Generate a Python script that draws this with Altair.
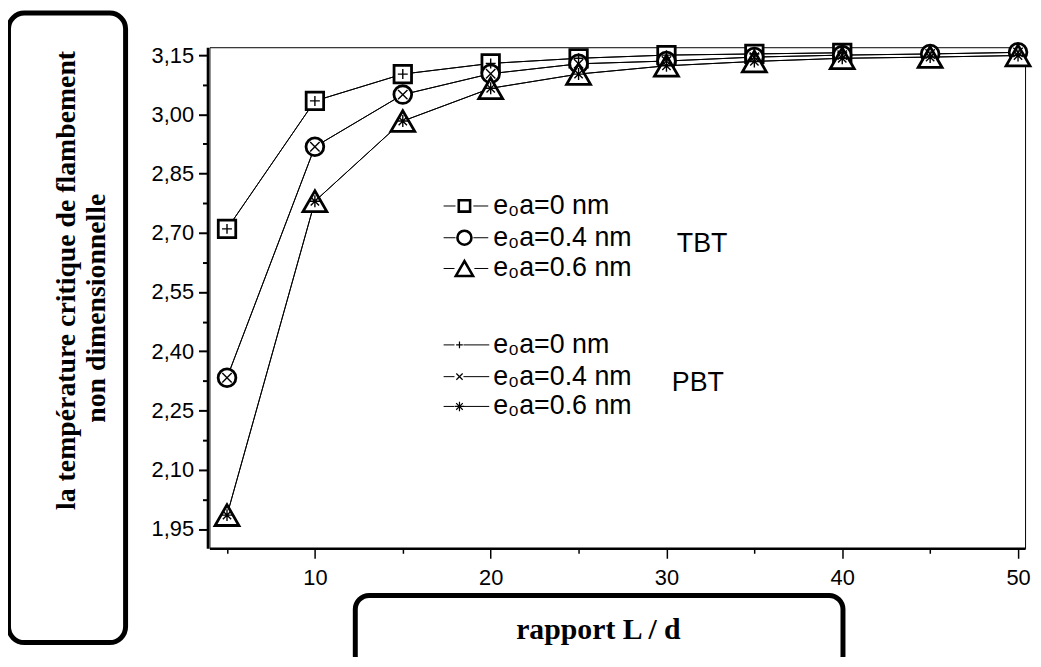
import altair as alt
import pandas as pd

# ---------------- data ----------------
ratio = [5, 10, 15, 20, 25, 30, 35, 40, 45, 50]

tbt_e0a_00 = [2.710, 3.034, 3.102, 3.129, 3.142, 3.150, 3.153, 3.156]
tbt_e0a_04 = [2.333, 2.918, 3.050, 3.103, 3.128, 3.135, 3.145, 3.150, 3.153, 3.157]
tbt_e0a_06 = [1.985, 2.780, 2.983, 3.066, 3.102, 3.123, 3.134, 3.142, 3.145, 3.149]

pbt_e0a_00 = [2.710, 3.034, 3.102, 3.129, 3.142, 3.150, 3.153, 3.156]
pbt_e0a_04 = [2.333, 2.918, 3.050, 3.103, 3.128, 3.135, 3.145, 3.150, 3.153, 3.157]
pbt_e0a_06 = [1.985, 2.780, 2.983, 3.066, 3.102, 3.123, 3.134, 3.142, 3.145, 3.149]

series_labels = ["e₀a=0 nm", "e₀a=0.4 nm", "e₀a=0.6 nm"]
group_labels = ["TBT", "PBT"]

y_major = [1.95, 2.10, 2.25, 2.40, 2.55, 2.70, 2.85, 3.00, 3.15]
y_minor = [2.025, 2.175, 2.325, 2.475, 2.625, 2.775, 2.925, 3.075]
x_major = [10, 20, 30, 40, 50]
x_minor = [5, 15, 25, 35, 45]

x_title = "rapport L / d"
y_title = ["la température critique de flambement", "non dimensionnelle"]

# ---------------- table ----------------
series = [
    ("TBT0", tbt_e0a_00), ("TBT4", tbt_e0a_04), ("TBT6", tbt_e0a_06),
    ("PBT0", pbt_e0a_00), ("PBT4", pbt_e0a_04), ("PBT6", pbt_e0a_06),
]
rows = []
for name, vals in series:
    for xv, yv in zip(ratio, vals):
        rows.append({"series": name, "ratio": xv, "value": yv})
df = pd.DataFrame(rows)

# ---------------- layout helpers (page px -> plot px) ----------------
OX, OY = 211, 45
W, H = 822, 505


def px(v):
    return v - OX


def py(v):
    return v - OY


PLUS = "M-1,0L1,0M0,-1L0,1"
XMARK = "M-1,-1L1,1M-1,1L1,-1"
STAR = "M-1,0L1,0M0,-1L0,1M-0.7,-0.7L0.7,0.7M-0.7,0.7L0.7,-0.7"

xscale = alt.Scale(domain=[4, 50.4], nice=False, zero=False)
yscale = alt.Scale(domain=[1.901, 3.170], nice=False, zero=False)

LF = "Liberation Sans"

ax_y_major = alt.Axis(orient="left", values=y_major, title=None, grid=False,
                      labelExpr="replace(format(datum.value, '.2f'), '.', ',')",
                      tickSize=9, tickWidth=2, tickColor="black",
                      domainWidth=2.5, domainColor="black", offset=2,
                      labelFont=LF, labelFontSize=22, labelColor="black",
                      labelPadding=5)
ax_y_minor = alt.Axis(orient="left", values=y_minor, title=None, grid=False,
                      labels=False, domain=False, tickSize=5, tickWidth=2,
                      tickColor="black", offset=2)
ax_x_major = alt.Axis(orient="bottom", values=x_major, title=None, grid=False,
                      format="d", tickSize=10, tickWidth=1.5, tickColor="black",
                      domainWidth=2.5, domainColor="black",
                      labelFont=LF, labelFontSize=22, labelColor="black",
                      labelPadding=9)
ax_x_minor = alt.Axis(orient="bottom", values=x_minor, title=None, grid=False,
                      labels=False, domain=False, tickSize=5, tickWidth=1.5,
                      tickColor="black")

base = alt.Chart(df)

lines = base.mark_line(color="black", strokeWidth=1).encode(
    x=alt.X("ratio:Q", scale=xscale, axis=ax_x_major),
    y=alt.Y("value:Q", scale=yscale, axis=ax_y_major),
    detail="series:N",
)


def tbt_layer(name, shape, size):
    return base.transform_filter(alt.datum.series == name).mark_point(
        shape=shape, size=size, filled=True, fill="white", stroke="black",
        strokeWidth=2.8, opacity=1, fillOpacity=1, strokeOpacity=1,
    ).encode(
        x=alt.X("ratio:Q", scale=xscale, axis=None),
        y=alt.Y("value:Q", scale=yscale, axis=None),
    )


def pbt_layer(name, shape, size, xa=None, ya=None):
    return base.transform_filter(alt.datum.series == name).mark_point(
        shape=shape, size=size, filled=False, stroke="black",
        strokeWidth=1.4, opacity=1,
    ).encode(
        x=alt.X("ratio:Q", scale=xscale, axis=xa),
        y=alt.Y("value:Q", scale=yscale, axis=ya),
    )


m_sq = tbt_layer("TBT0", "square", 310)
m_ci = tbt_layer("TBT4", "circle", 320)
m_tr = tbt_layer("TBT6", "triangle-up", 580)
p_pl = pbt_layer("PBT0", PLUS, 100, ax_x_minor, ax_y_minor)
p_x = pbt_layer("PBT4", XMARK, 90)
p_st = pbt_layer("PBT6", STAR, 144)

# ---------------- legend (built from label lists) ----------------
row_y_tbt = [205, 237, 268]
row_y_pbt = [345, 377, 407]
leg_marks, leg_text, leg_dash = [], [], []
tbt_shapes = [("square", 130), ("circle", 200), ("triangle-up", 300)]
pbt_shapes = [(PLUS, 45), (XMARK, 40), (STAR, 90)]
for i, lab in enumerate(series_labels):
    yy = py(row_y_tbt[i])
    leg_marks.append({"px": px(468), "py": yy, "shape": tbt_shapes[i][0],
                      "size": tbt_shapes[i][1], "kind": "T"})
    leg_text.append({"px": px(497), "py": yy, "label": lab})
    gap = 9 if i < 2 else 10
    leg_dash.append({"a": px(447), "b": px(468 - gap), "py": yy})
    leg_dash.append({"a": px(468 + gap), "b": px(492), "py": yy})
for i, lab in enumerate(series_labels):
    yy = py(row_y_pbt[i])
    leg_marks.append({"px": px(463), "py": yy, "shape": pbt_shapes[i][0],
                      "size": pbt_shapes[i][1], "kind": "P"})
    leg_text.append({"px": px(497), "py": yy, "label": lab})
    leg_dash.append({"a": px(447), "b": px(458), "py": yy})
    leg_dash.append({"a": px(467), "b": px(493), "py": yy})
leg_text.append({"px": px(682), "py": py(243), "label": group_labels[0]})
leg_text.append({"px": px(677), "py": py(383), "label": group_labels[1]})

lm = pd.DataFrame(leg_marks)
lt = pd.DataFrame(leg_text)
ld = pd.DataFrame(leg_dash)

leg_dash_layer = alt.Chart(ld).mark_rule(color="black", strokeWidth=1).encode(
    x=alt.X("a:Q", scale=None, axis=None), x2="b:Q",
    y=alt.Y("py:Q", scale=None, axis=None),
)
leg_tbt = alt.Chart(lm).transform_filter(alt.datum.kind == "T").mark_point(
    filled=True, fill="white", stroke="black", strokeWidth=2.6, opacity=1
).encode(
    x=alt.X("px:Q", scale=None, axis=None),
    y=alt.Y("py:Q", scale=None, axis=None),
    shape=alt.Shape("shape:N", scale=None, legend=None),
    size=alt.Size("size:Q", scale=None, legend=None),
)
leg_pbt = alt.Chart(lm).transform_filter(alt.datum.kind == "P").mark_point(
    filled=False, stroke="black", strokeWidth=1.2, opacity=1
).encode(
    x=alt.X("px:Q", scale=None, axis=None),
    y=alt.Y("py:Q", scale=None, axis=None),
    shape=alt.Shape("shape:N", scale=None, legend=None),
    size=alt.Size("size:Q", scale=None, legend=None),
)
leg_txt = alt.Chart(lt).mark_text(
    align="left", baseline="middle", font=LF, fontSize=27, color="black"
).encode(
    x=alt.X("px:Q", scale=None, axis=None),
    y=alt.Y("py:Q", scale=None, axis=None),
    text="label:N",
)

# ---------------- title boxes ----------------
one = alt.Data(values=[{"k": 0}])
ybox = alt.Chart(one).mark_rect(
    fill="white", stroke="black", strokeWidth=5, cornerRadius=16
).encode(x=alt.value(px(8.5)), x2=alt.value(px(126.5)),
         y=alt.value(py(10.5)), y2=alt.value(py(645)))
xbox = alt.Chart(one).mark_rect(
    fill="white", stroke="black", strokeWidth=5, cornerRadius=14
).encode(x=alt.value(px(358)), x2=alt.value(px(849.5)),
         y=alt.value(py(597.5)), y2=alt.value(py(672)))

SF = "Liberation Serif"
ytxt1 = alt.Chart(one).mark_text(
    angle=270, align="center", baseline="middle", font=SF, fontSize=28,
    fontWeight="bold", color="black", text=y_title[0]
).encode(x=alt.value(px(68)), y=alt.value(py(280)))
ytxt2 = alt.Chart(one).mark_text(
    angle=270, align="center", baseline="middle", font=SF, fontSize=28,
    fontWeight="bold", color="black", text=y_title[1]
).encode(x=alt.value(px(98)), y=alt.value(py(308)))
xtxt = alt.Chart(one).mark_text(
    align="center", baseline="middle", font=SF, fontSize=30,
    fontWeight="bold", color="black", text=x_title
).encode(x=alt.value(px(603)), y=alt.value(py(632)))

chart = alt.layer(
    lines, m_sq, m_ci, m_tr, p_pl, p_x, p_st,
    leg_dash_layer, leg_tbt, leg_pbt, leg_txt,
    ybox, xbox, ytxt1, ytxt2, xtxt,
).resolve_axis(x="independent", y="independent").properties(
    width=W, height=H,
    autosize=alt.AutoSizeParams(type="none"),
    padding={"left": OX - 8, "top": OY - 8, "right": 8, "bottom": 107},
).configure_view(stroke="black", strokeWidth=1)

chart.save("out.html", embed_options={"renderer": "svg", "actions": False})
